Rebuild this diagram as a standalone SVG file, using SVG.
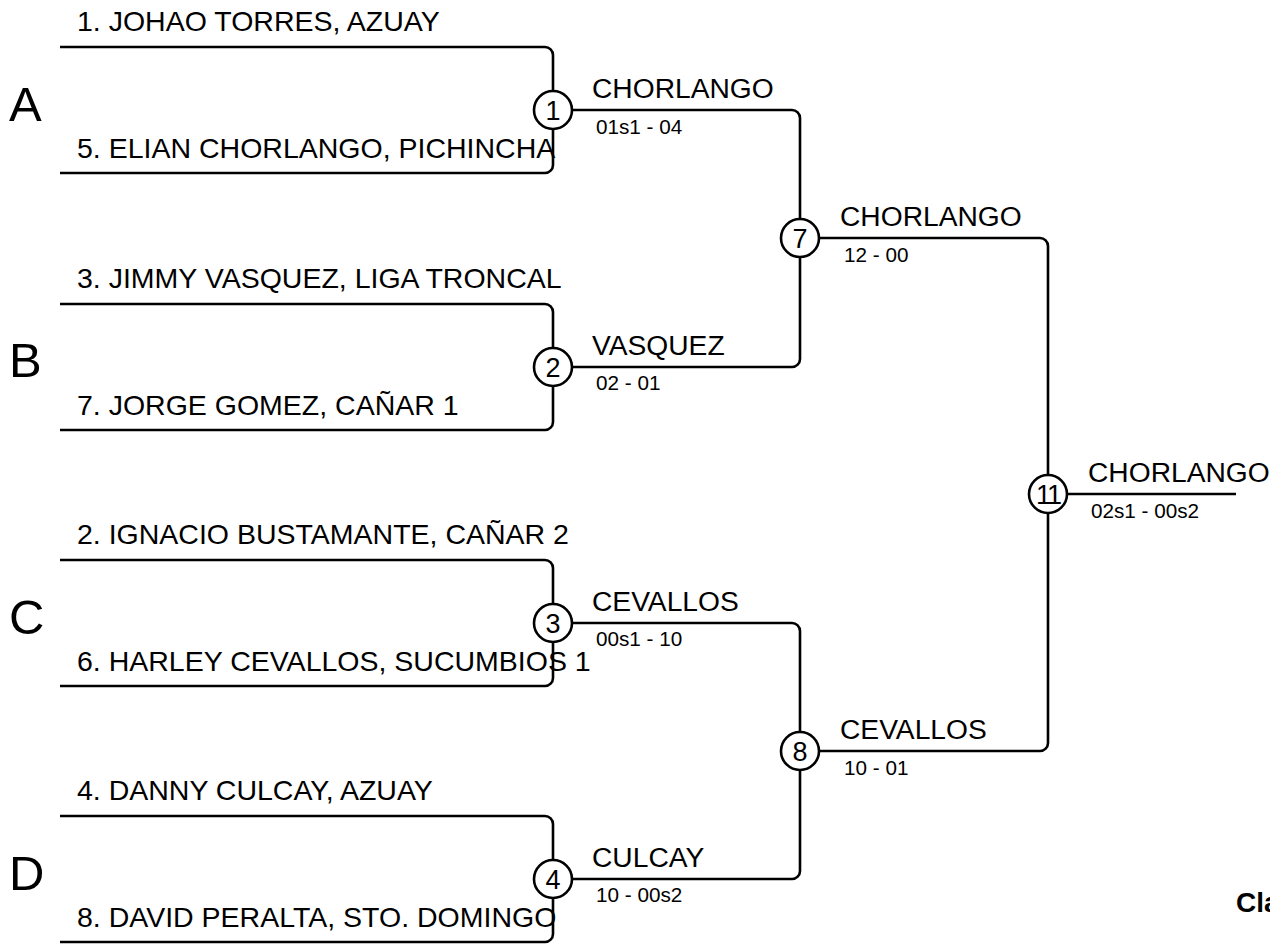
<svg xmlns="http://www.w3.org/2000/svg" width="1270" height="945" viewBox="0 0 1270 945">
<style>
.ln{fill:none;stroke:#000;stroke-width:2.6}
.c{fill:#fff;stroke:#000;stroke-width:2.6}
.n{font-family:"Liberation Sans",Arial,sans-serif;font-size:27px;text-anchor:middle;fill:#000}
.p{font-family:"Liberation Sans",Arial,sans-serif;font-size:28.5px;fill:#000}
.w{font-family:"Liberation Sans",Arial,sans-serif;font-size:28.2px;fill:#000}
.s{font-family:"Liberation Sans",Arial,sans-serif;font-size:20.7px;fill:#000}
.g{font-family:"Liberation Sans",Arial,sans-serif;font-size:49px;fill:#000}
.b{font-family:"Liberation Sans",Arial,sans-serif;font-size:28px;font-weight:bold;fill:#000}
</style>
<rect width="1270" height="945" fill="#fff"/>
<g id="connectors">
<path class="ln" d="M60,47 H545 A8,8 0 0 1 553,55 V165 A8,8 0 0 1 545,173 H60"/>
<path class="ln" d="M60,304 H545 A8,8 0 0 1 553,312 V422 A8,8 0 0 1 545,430 H60"/>
<path class="ln" d="M60,560 H545 A8,8 0 0 1 553,568 V678 A8,8 0 0 1 545,686 H60"/>
<path class="ln" d="M60,816 H545 A8,8 0 0 1 553,824 V934 A8,8 0 0 1 545,942 H60"/>
<path class="ln" d="M553,110 H792 A8,8 0 0 1 800,118 V359 A8,8 0 0 1 792,367 H553"/>
<path class="ln" d="M553,623 H792 A8,8 0 0 1 800,631 V871 A8,8 0 0 1 792,879 H553"/>
<path class="ln" d="M800,238 H1040 A8,8 0 0 1 1048,246 V743 A8,8 0 0 1 1040,751 H800"/>
<path class="ln" d="M1048,494 H1236"/>
</g>
<g id="groupA">
<text class="g" x="9" y="121">A</text>
<text class="p" x="77" y="31">1. JOHAO TORRES, AZUAY</text>
<text class="p" x="77" y="158">5. ELIAN CHORLANGO, PICHINCHA</text>
</g>
<g id="groupB">
<text class="g" x="9" y="377">B</text>
<text class="p" x="77" y="288">3. JIMMY VASQUEZ, LIGA TRONCAL</text>
<text class="p" x="77" y="415">7. JORGE GOMEZ, CAÑAR 1</text>
</g>
<g id="groupC">
<text class="g" x="9" y="634">C</text>
<text class="p" x="77" y="544">2. IGNACIO BUSTAMANTE, CAÑAR 2</text>
<text class="p" x="77" y="671">6. HARLEY CEVALLOS, SUCUMBIOS 1</text>
</g>
<g id="groupD">
<text class="g" x="9" y="890">D</text>
<text class="p" x="77" y="800">4. DANNY CULCAY, AZUAY</text>
<text class="p" x="77" y="927">8. DAVID PERALTA, STO. DOMINGO</text>
</g>
<g id="match1">
<circle class="c" cx="553" cy="110" r="19"/>
<text class="n" x="553" y="120">1</text>
<text class="w" x="592" y="98">CHORLANGO</text>
<text class="s" x="596" y="134">01s1 - 04</text>
</g>
<g id="match2">
<circle class="c" cx="553" cy="367" r="19"/>
<text class="n" x="553" y="377">2</text>
<text class="w" x="592" y="355">VASQUEZ</text>
<text class="s" x="596" y="390">02 - 01</text>
</g>
<g id="match3">
<circle class="c" cx="553" cy="623" r="19"/>
<text class="n" x="553" y="633">3</text>
<text class="w" x="592" y="611">CEVALLOS</text>
<text class="s" x="596" y="646">00s1 - 10</text>
</g>
<g id="match4">
<circle class="c" cx="553" cy="879" r="19"/>
<text class="n" x="553" y="889">4</text>
<text class="w" x="592" y="867">CULCAY</text>
<text class="s" x="596" y="902">10 - 00s2</text>
</g>
<g id="match7">
<circle class="c" cx="800" cy="238" r="19"/>
<text class="n" x="800" y="248">7</text>
<text class="w" x="840" y="226">CHORLANGO</text>
<text class="s" x="844" y="262">12 - 00</text>
</g>
<g id="match8">
<circle class="c" cx="800" cy="751" r="19"/>
<text class="n" x="800" y="761">8</text>
<text class="w" x="840" y="739">CEVALLOS</text>
<text class="s" x="844" y="775">10 - 01</text>
</g>
<g id="match11">
<circle class="c" cx="1048" cy="494" r="19"/>
<text class="n" x="1048" y="504" letter-spacing="-2">11</text>
<text class="w" x="1088" y="482">CHORLANGO</text>
<text class="s" x="1091" y="518">02s1 - 00s2</text>
</g>
<g id="footer">
<text class="b" x="1236" y="912">Cla</text>
</g>
</svg>
